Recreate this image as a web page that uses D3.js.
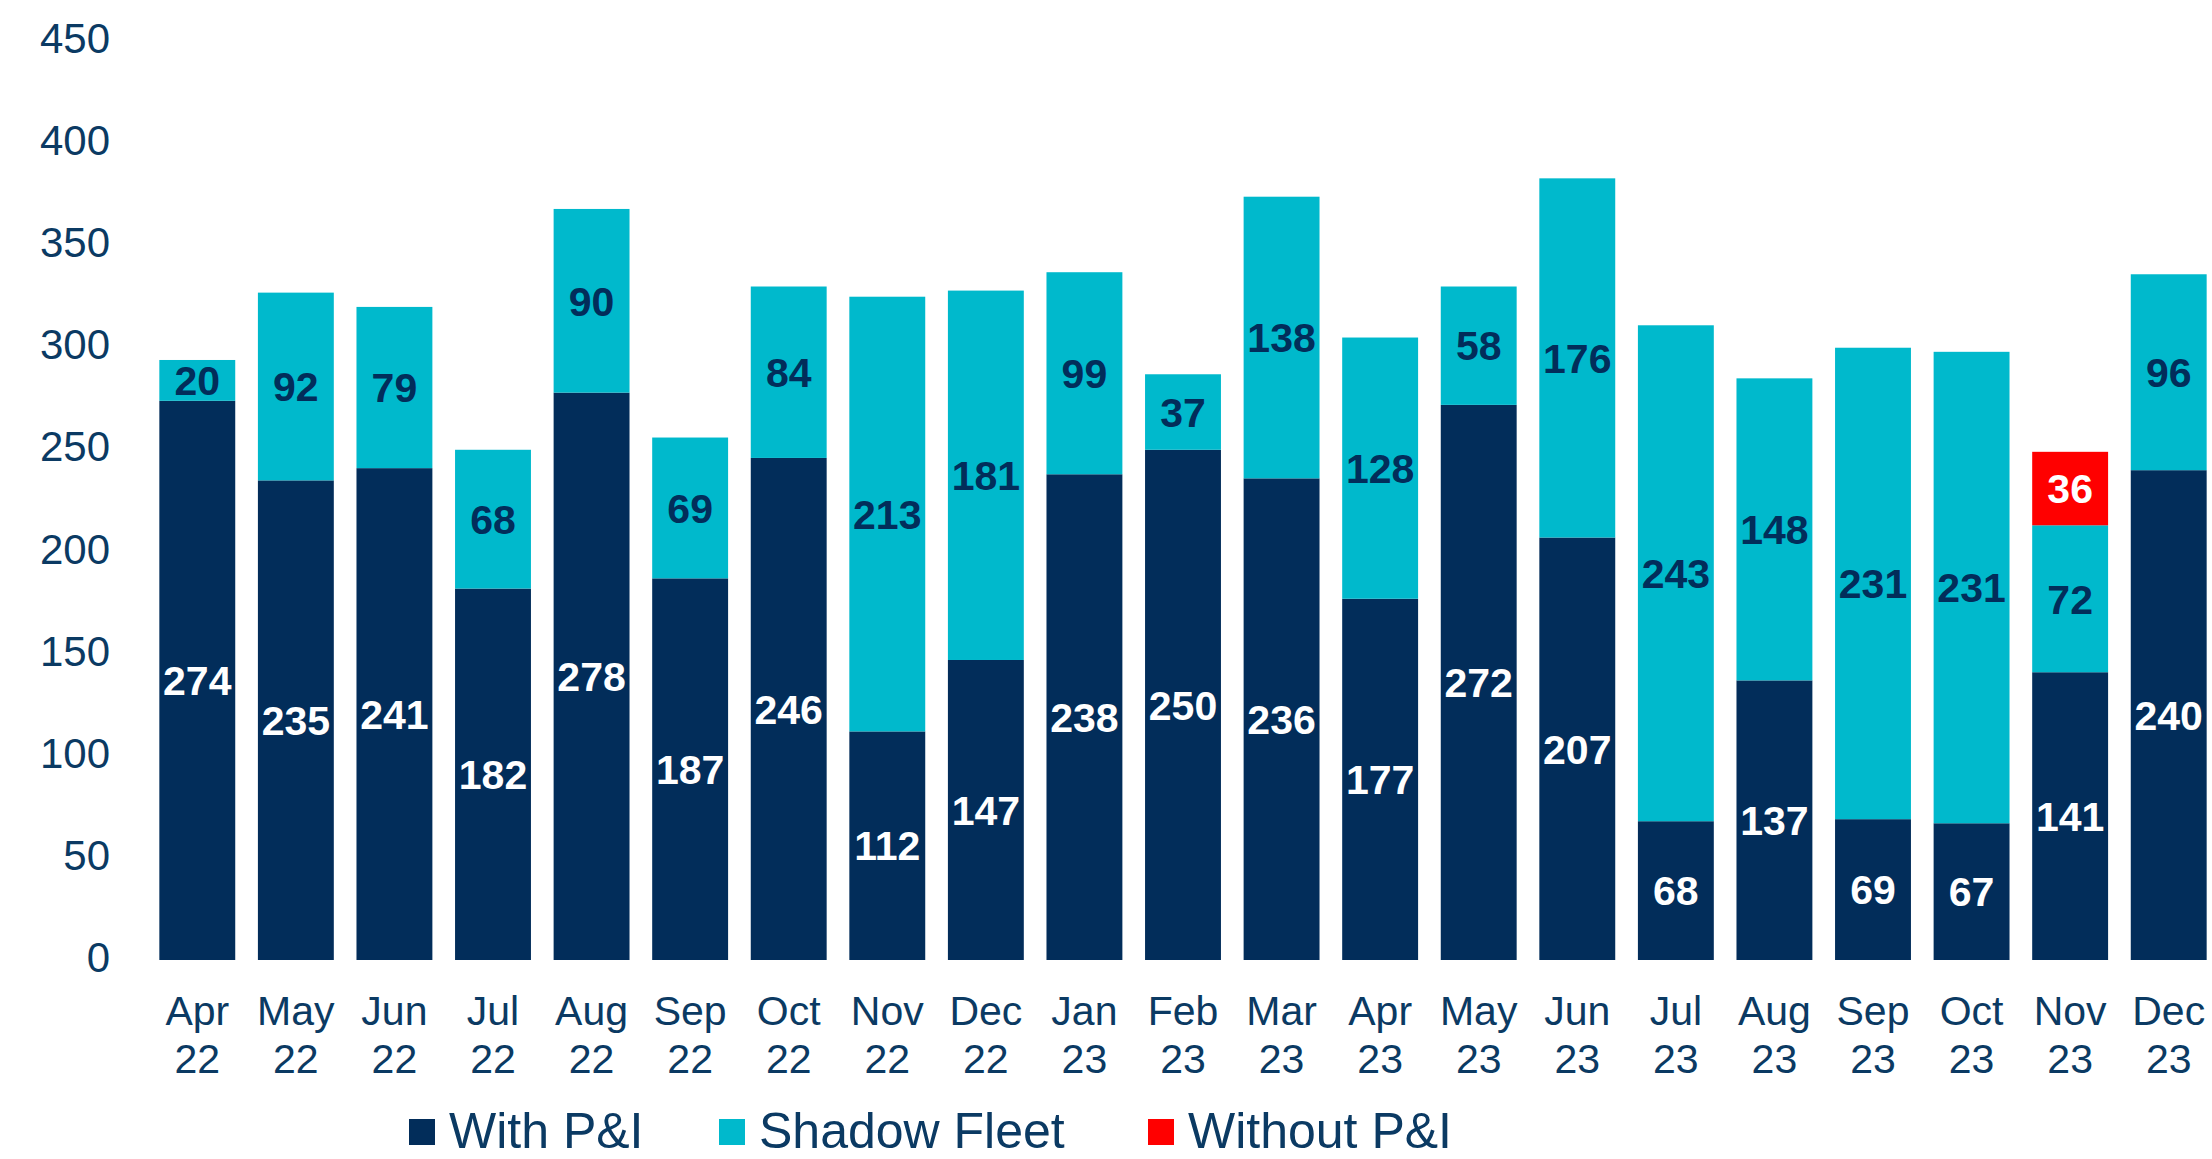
<!DOCTYPE html>
<html>
<head>
<meta charset="utf-8">
<script src="https://cdn.jsdelivr.net/npm/d3@7"></script>
<style>
  body { margin: 0; background: #fff; }
  text { font-family: "Liberation Sans", Arial, sans-serif; }
</style>
</head>
<body>
<svg id="chart"></svg>
<script>
const months = ["Apr 22", "May 22", "Jun 22", "Jul 22", "Aug 22", "Sep 22", "Oct 22", "Nov 22", "Dec 22",
  "Jan 23", "Feb 23", "Mar 23", "Apr 23", "May 23", "Jun 23", "Jul 23", "Aug 23", "Sep 23", "Oct 23", "Nov 23", "Dec 23"];
const withPI = [274, 235, 241, 182, 278, 187, 246, 112, 147, 238, 250, 236, 177, 272, 207, 68, 137, 69, 67, 141, 240];
const shadowFleet = [20, 92, 79, 68, 90, 69, 84, 213, 181, 99, 37, 138, 128, 58, 176, 243, 148, 231, 231, 72, 96];
const withoutPI = [0, 0, 0, 0, 0, 0, 0, 0, 0, 0, 0, 0, 0, 0, 0, 0, 0, 0, 0, 36, 0];
const yTicks = [0, 50, 100, 150, 200, 250, 300, 350, 400, 450];
const seriesNames = ["With P&I", "Shadow Fleet", "Without P&I"];

const colors = ["#022d5a", "#00b9cc", "#ff0000"];
const labelColors = ["#ffffff", "#022d5a", "#ffffff"];
const textColor = "#0b3a63";

const w = 2212;
const h = 1159;

const svg = d3.select("#chart").attr("width", w).attr("height", h);

// stack table built from the arrays
const table = months.map((m, i) => ({
  month: m,
  "With P&I": withPI[i],
  "Shadow Fleet": shadowFleet[i],
  "Without P&I": withoutPI[i]
}));
const stacked = d3.stack().keys(seriesNames)(table);

const x = d3.scaleBand()
  .domain(months)
  .range([148, 2218])
  .paddingInner(0.23)
  .paddingOuter(0.115);

const y = d3.scaleLinear()
  .domain([0, 450])
  .range([960, 41.6]);

// y axis labels
svg.append("g")
  .selectAll("text")
  .data(yTicks)
  .enter()
  .append("text")
  .attr("x", 110)
  .attr("y", d => y(d) - 3)
  .attr("dy", "0.35em")
  .attr("text-anchor", "end")
  .attr("font-size", 42)
  .attr("fill", textColor)
  .text(d => d);

// bars
const layers = svg.append("g")
  .selectAll("g")
  .data(stacked)
  .enter()
  .append("g")
  .attr("fill", (d, i) => colors[i]);

layers.selectAll("rect")
  .data(d => d.filter(s => s[1] - s[0] > 0))
  .enter()
  .append("rect")
  .attr("x", d => x(d.data.month))
  .attr("y", d => y(d[1]))
  .attr("width", x.bandwidth())
  .attr("height", d => y(d[0]) - y(d[1]));

// value labels
stacked.forEach((layer, k) => {
  svg.append("g")
    .selectAll("text")
    .data(layer.filter(s => s[1] - s[0] > 0))
    .enter()
    .append("text")
    .attr("x", d => x(d.data.month) + x.bandwidth() / 2)
    .attr("y", d => y((d[0] + d[1]) / 2))
    .attr("dy", "0.36em")
    .attr("text-anchor", "middle")
    .attr("font-size", 41)
    .attr("font-weight", "bold")
    .attr("fill", labelColors[k])
    .text(d => d[1] - d[0]);
});

// x axis labels, two lines
const xl = svg.append("g")
  .selectAll("text")
  .data(months)
  .enter()
  .append("text")
  .attr("text-anchor", "middle")
  .attr("font-size", 41)
  .attr("fill", textColor);

xl.append("tspan")
  .attr("x", d => x(d) + x.bandwidth() / 2)
  .attr("y", 1025)
  .text(d => d.split(" ")[0]);

xl.append("tspan")
  .attr("x", d => x(d) + x.bandwidth() / 2)
  .attr("y", 1073)
  .text(d => d.split(" ")[1]);

// legend
const legendX = [409, 719, 1148];
const legend = svg.append("g")
  .selectAll("g")
  .data(seriesNames)
  .enter()
  .append("g")
  .attr("transform", (d, i) => `translate(${legendX[i]},1130)`);

legend.append("rect")
  .attr("x", 0)
  .attr("y", -11)
  .attr("width", 26)
  .attr("height", 26)
  .attr("fill", (d, i) => colors[i]);

legend.append("text")
  .attr("x", 40)
  .attr("y", 0)
  .attr("dy", "0.36em")
  .attr("font-size", 50)
  .attr("fill", textColor)
  .text(d => d);
</script>
</body>
</html>
